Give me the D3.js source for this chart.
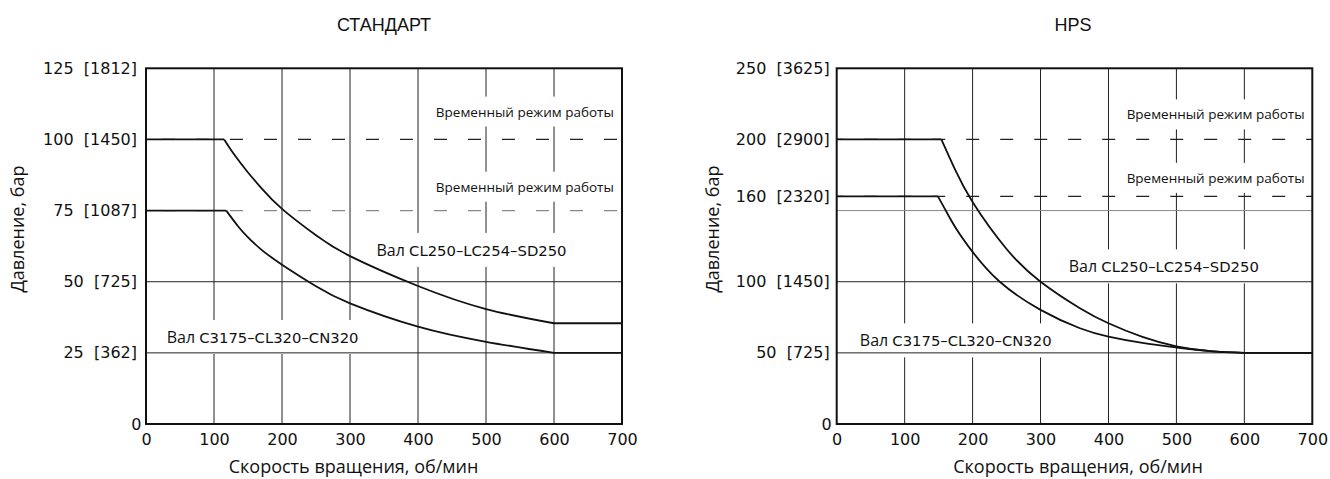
<!DOCTYPE html>
<html>
<head>
<meta charset="utf-8">
<style>
body{margin:0;background:#fff;}
text{fill:#111;}
</style>
</head>
<body>
<svg id="graph" width="1330" height="479"></svg>
<script src="https://d3js.org/d3.v7.min.js"></script>
<script>
// скорость вращения, об/мин
var rpmTicks = [0,100,200,300,400,500,600,700];

// давление: бар и [psi]
var stdBar = [0,25,50,75,100,125];
var stdPsi = ['','362','725','1087','1450','1812'];
var hpsBar = [0,50,100,160,200,250];
var hpsPsi = ['','725','1450','2320','2900','3625'];

// сетка
var stdGrid = [25,50];
var stdDashed = [75,100];
var hpsGrid = [50,100,150];
var hpsDashed = [160,200];

// кривые СТАНДАРТ
var stdUpperRpm = [0,115,130,150,170,200,250,300,400,500,600,700];
var stdUpperBar = [100,100,94.6,88.4,82.8,75.6,66.3,59,48.5,40.4,35.4,35.4];
var stdLowerRpm = [0,118,135,150,170,200,250,300,400,500,600,700];
var stdLowerBar = [75,75,69.6,65.6,61.2,56,48.4,42.4,34.2,28.9,25,25];

// кривые HPS
var hpsUpperRpm = [0,154,165,175,200,250,300,358,400,450,500,550,600,700];
var hpsUpperBar = [200,200,188.5,178,156,123,100,81.4,70.8,61.2,54.6,51.2,50,50];
var hpsLowerRpm = [0,149,160,175,200,240,300,358,400,450,500,550,600,700];
var hpsLowerBar = [160,160,150.5,138,121,100,80.2,67.3,61.4,57,53.8,51.2,50,50];

var tempText = 'Временный режим работы';
var shaftWord = 'Вал';
var shaftUpper = 'CL250–LC254–SD250';
var shaftLower = 'C3175–CL320–CN320';

var svg = d3.select('#graph');
var tickFont = 'DejaVu Sans';
var textFont = 'Open Sans';

function zip(a,b){ return a.map(function(v,i){ return [v,b[i]]; }); }

function drawChart(c){
	var x = d3.scaleLinear().domain([0,700]).range([c.left,c.right]);
	var y = d3.scaleLinear().domain([0,c.yMax]).range([424,68.3]);
	var g = svg.append('g');
	var gV = g.append('g'), gBox = g.append('g'), gH = g.append('g'),
		gCurve = g.append('g'), gFrame = g.append('g'), gText = g.append('g');

	gV.selectAll('line').data(rpmTicks.slice(1,-1)).enter().append('line')
		.attr('x1',function(d){return x(d);}).attr('x2',function(d){return x(d);})
		.attr('y1',y(0)).attr('y2',y(c.yMax))
		.attr('stroke','#222').attr('stroke-width',1);

	gH.selectAll('.grid').data(c.grid).enter().append('line')
		.attr('x1',x(0)).attr('x2',x(700))
		.attr('y1',function(d){return y(d);}).attr('y2',function(d){return y(d);})
		.attr('stroke',function(d,i){return c.gridColor[i];}).attr('stroke-width',1);

	gH.selectAll('.dash').data(c.dashed).enter().append('line')
		.attr('x1',x(0)).attr('x2',x(700))
		.attr('y1',function(d){return y(d);}).attr('y2',function(d){return y(d);})
		.attr('stroke',function(d,i){return c.dashColor[i];}).attr('stroke-width',1.3)
		.attr('stroke-dasharray','13,21').attr('stroke-dashoffset',c.dashOffset);

	var lin = d3.line().x(function(d){return x(d[0]);}).y(function(d){return y(d[1]);});
	var smooth = d3.line().curve(d3.curveNatural)
		.x(function(d){return x(d[0]);}).y(function(d){return y(d[1]);});
	c.curves.forEach(function(s){
		var pts = zip(s[0],s[1]);
		gCurve.append('path').attr('d',lin(pts.slice(0,2)));
		gCurve.append('path').attr('d',smooth(pts.slice(1,-1)));
		gCurve.append('path').attr('d',lin(pts.slice(-2)));
	});
	gCurve.selectAll('path').attr('fill','none').attr('stroke','#111').attr('stroke-width',1.8);

	gFrame.append('rect').attr('x',x(0)).attr('y',y(c.yMax))
		.attr('width',x(700)-x(0)).attr('height',y(0)-y(c.yMax))
		.attr('fill','none').attr('stroke','#111').attr('stroke-width',2);

	// оси
	var ya = d3.axisLeft(y).tickValues(c.bar).tickSize(0).tickPadding(c.tickPad)
		.tickFormat(function(d,i){ return d===0 ? '0' : d + '\u00a0\u00a0[' + c.psi[i] + ']'; });
	var yg = gText.append('g').attr('transform','translate('+x(0)+',0)').call(ya);
	yg.select('.domain').remove();
	yg.selectAll('text').filter(function(d){return d===0;}).attr('x',-c.zeroPad);
	var xa = d3.axisBottom(x).tickValues(rpmTicks).tickSize(0).tickPadding(10).tickFormat(d3.format('d'));
	var xg = gText.append('g').attr('transform','translate(0,'+y(0)+')').call(xa);
	xg.select('.domain').remove();
	gText.selectAll('.tick text').attr('font-family',tickFont).attr('font-size',16).attr('fill','#111');

	gText.append('text').attr('x',c.titleX).attr('y',31).attr('text-anchor','middle')
		.attr('font-family','Liberation Sans').attr('font-size',18).text(c.title);
	gText.append('text').attr('x',c.xlabX).attr('y',473).attr('text-anchor','middle')
		.attr('font-family',textFont).attr('font-size',18).text('Скорость вращения, об/мин');
	gText.append('text').attr('transform','translate('+c.ylabX+',229) rotate(-90)')
		.attr('dy','0.35em').attr('text-anchor','middle')
		.attr('font-family',textFont).attr('font-size',18).text('Давление, бар');

	var boxed = [];
	c.temp.forEach(function(t){
		boxed.push(gText.append('text').attr('x',x(t[0])).attr('y',y(t[1])).attr('dy','0.35em')
			.attr('text-anchor','end').attr('font-family',textFont).attr('font-size',13.5).text(tempText));
	});
	c.shaft.forEach(function(t){
		var tx = gText.append('text').attr('x',x(t[0])).attr('y',y(t[1])).attr('dy','0.36em');
		tx.append('tspan').attr('font-family',textFont).attr('font-size',16).text(shaftWord + ' ');
		tx.append('tspan').attr('font-family',tickFont).attr('font-size',14.8).text(t[2]);
		boxed.push(tx);
	});
	boxed.forEach(function(t){
		var b = t.node().getBBox();
		gBox.append('rect').attr('x',b.x-5).attr('y',b.y-6)
			.attr('width',b.width+10).attr('height',b.height+12).attr('fill','#fff');
	});
}

drawChart({
	left:146, right:622, yMax:125, bar:stdBar, psi:stdPsi,
	grid:stdGrid, gridColor:['#222','#222'],
	dashed:stdDashed, dashColor:['#888','#222'], dashOffset:18,
	curves:[[stdUpperRpm,stdUpperBar],[stdLowerRpm,stdLowerBar]],
	tickPad:9, zeroPad:4.5,
	title:'СТАНДАРТ', titleX:384, xlabX:353.5, ylabX:17.5,
	temp:[[688,109.7],[688,83.3]],
	shaft:[[339,61.1,shaftUpper],[30.4,30.5,shaftLower]]
});

drawChart({
	left:836.7, right:1312.3, yMax:250, bar:hpsBar, psi:hpsPsi,
	grid:hpsGrid, gridColor:['#222','#222','#888'],
	dashed:hpsDashed, dashColor:['#222','#222'], dashOffset:6.5,
	curves:[[hpsUpperRpm,hpsUpperBar],[hpsLowerRpm,hpsLowerBar]],
	tickPad:7, zeroPad:5,
	title:'HPS', titleX:1073, xlabX:1078, ylabX:712.5,
	temp:[[688.7,217.4],[688.7,172.8]],
	shaft:[[341.6,110.6,shaftUpper],[34,58.6,shaftLower]]
});
</script>
</body>
</html>
